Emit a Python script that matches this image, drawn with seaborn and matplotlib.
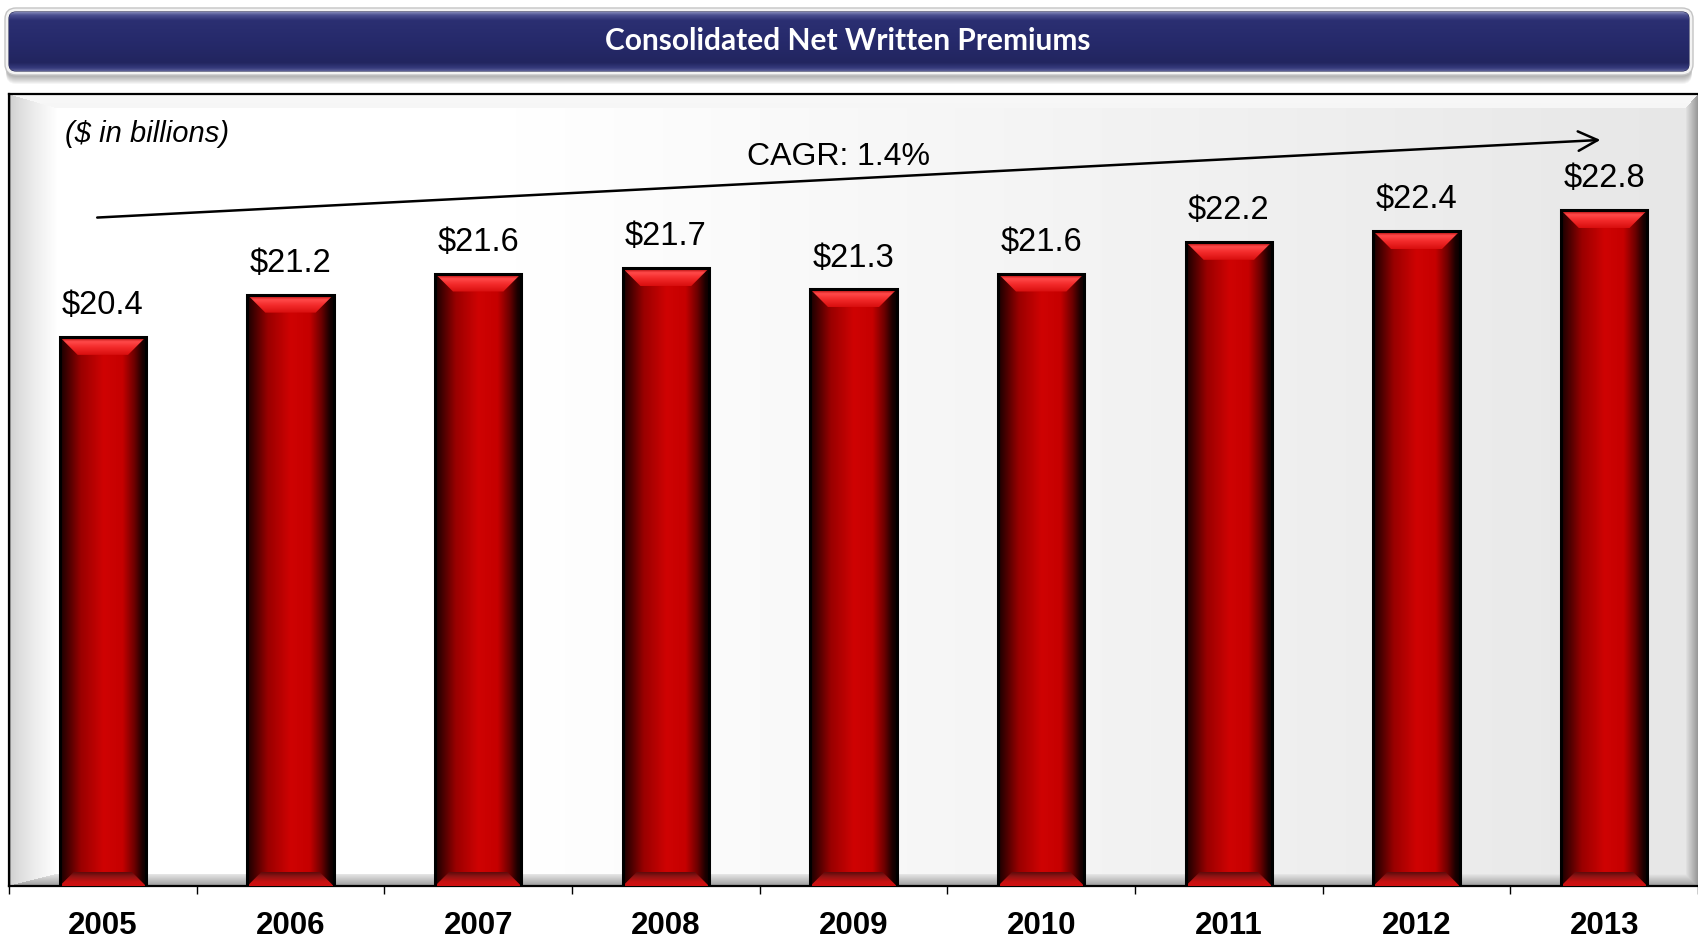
import numpy as np
import matplotlib
matplotlib.use("Agg")
import matplotlib.pyplot as plt
from matplotlib.patches import FancyBboxPatch, Polygon
from matplotlib.colors import LinearSegmentedColormap
import seaborn as sns

# ---- data ----
years = ["2005", "2006", "2007", "2008", "2009", "2010", "2011", "2012", "2013"]
premiums = [20.4, 21.2, 21.6, 21.7, 21.3, 21.6, 22.2, 22.4, 22.8]
value_labels = [f"${v:.1f}" for v in premiums]
title = "Consolidated Net Written Premiums"
unit_note = "($ in billions)"
cagr_text = "CAGR: 1.4%"

sns.set_style("white")
plt.rcParams["font.family"] = ["Liberation Sans", "DejaVu Sans"]

W_PX, H_PX = 1698, 938
fig = plt.figure(figsize=(W_PX / 100, H_PX / 100), dpi=100)
fig.patch.set_facecolor("white")


def cmap_from(colors, positions):
    return LinearSegmentedColormap.from_list("g", list(zip(positions, colors)))


# ---- decoration layer in pixel coordinates ----
deco = fig.add_axes([0, 0, 1, 1], zorder=0)
deco.set_xlim(0, W_PX)
deco.set_ylim(H_PX, 0)
deco.axis("off")

# title banner: soft shadow, light rim, navy body
for k in range(9):
    deco.add_patch(FancyBboxPatch((6, 14 + k), 1686, 62,
                                  boxstyle="round,pad=0,rounding_size=10",
                                  fc="black", ec="none", alpha=0.04))
deco.add_patch(FancyBboxPatch((5, 8), 1688, 67,
                              boxstyle="round,pad=0,rounding_size=11",
                              fc="#f3f3f3", ec="#c4c4c4", lw=1.0))
navy = FancyBboxPatch((9, 12), 1680, 59,
                      boxstyle="round,pad=0,rounding_size=7",
                      fc="none", ec="#1c1f4f", lw=0.8)
deco.add_patch(navy)
navy_cmap = cmap_from(["#8186b6", "#4b5090", "#2b2f72", "#262a6b", "#22255f", "#363a7c", "#5d6198"],
                      [0, 0.05, 0.14, 0.5, 0.86, 0.95, 1])
im = deco.imshow(np.linspace(0, 1, 256)[:, None], cmap=navy_cmap, aspect="auto",
                 extent=(9, 1689, 71, 12), origin="upper", interpolation="bilinear", zorder=1)
im.set_clip_path(navy)
deco.text(848, 41, title, color="white", fontsize=21.5, fontweight="bold",
          family=["Lato", "DejaVu Sans"], ha="center", va="center", zorder=3)

# plot panel with bevelled frame
PL, PR, PT, PB = 9, 1698, 94, 886
pw, ph = PR - PL, PB - PT
xs = np.arange(pw)[None, :].astype(float)
ys = np.arange(ph)[:, None].astype(float)
fx = xs / pw
base = np.where(fx < 0.3, 1.0, 1.0 - (fx - 0.3) / 0.7 * 0.095) * np.ones_like(ys)
Lw, Rw, Tw, Bw = 48.0, 12.0, 14.0, 12.0
ul = xs / Lw * np.ones_like(ys)
ur = (pw - 1 - xs) / Rw * np.ones_like(ys)
ut = ys / Tw * np.ones_like(xs)
ub = (ph - 1 - ys) / Bw * np.ones_like(xs)
stack = np.stack([ul, ur, ut, ub])
region = np.argmin(stack, axis=0)
depth = np.min(stack, axis=0)
img = base.copy()
inside = depth < 1
t = np.clip(depth, 0, 1)
left_v = 0.80 + 0.20 * t ** 0.7
right_v = 0.60 + 0.30 * t
top_v = 0.975 - 0.01 * t
bot_v = 0.62 + 0.30 * t
for r, vals in enumerate([left_v, right_v, top_v, bot_v]):
    m = inside & (region == r)
    img[m] = vals[m]
img[:, :2] = np.minimum(img[:, :2], 0.62)
deco.imshow(np.dstack([img, img, img]), aspect="auto", extent=(PL, PR, PB, PT),
            origin="upper", interpolation="bilinear", zorder=0)
deco.set_xlim(0, W_PX)
deco.set_ylim(H_PX, 0)

# ---- main chart ----
ax = fig.add_axes([PL / W_PX, 1 - PB / H_PX, pw / W_PX, ph / H_PX], zorder=1)
ax.patch.set_alpha(0)
sns.barplot(x=years, y=premiums, color="#c00000", width=0.46, saturation=1, ax=ax)

YMIN, YMAX = 10, 25
ux = pw / 9.0          # pixels per category
uy = ph / (YMAX - YMIN)  # pixels per billion

bar_cmap = cmap_from(["#180000", "#3c0000", "#9a0000", "#cf0303", "#c60000", "#6a0000", "#1a0000", "#0a0000"],
                     [0, 0.07, 0.24, 0.5, 0.72, 0.86, 0.95, 1])
top_cmap = cmap_from(["#a80000", "#ff4a4a", "#f42c2c", "#d80e0e"], [0, 0.25, 0.55, 1])
bot_cmap = cmap_from(["#5e0a0a", "#8e1414", "#c81010", "#d01010"], [0, 0.3, 0.7, 1])

for p in list(ax.patches):
    x0, w, h = p.get_x(), p.get_width(), p.get_height()
    p.set_facecolor("none")
    p.set_edgecolor("black")
    p.set_linewidth(2.2)
    p.set_zorder(4)
    g = ax.imshow(np.linspace(0, 1, 256)[None, :], cmap=bar_cmap, aspect="auto",
                  extent=(x0, x0 + w, YMIN, h), interpolation="bilinear", zorder=2)
    g.set_clip_path(p)
    # top bevel
    ix, iy = 18 / ux, 18 / uy
    tb = Polygon([(x0, h), (x0 + w, h), (x0 + w - ix, h - iy), (x0 + ix, h - iy)],
                 closed=True, fc="none", ec="none")
    ax.add_patch(tb)
    tg = ax.imshow(np.linspace(0, 1, 64)[:, None], cmap=top_cmap, aspect="auto",
                   extent=(x0, x0 + w, h - iy, h), interpolation="bilinear", zorder=3)
    tg.set_clip_path(tb)
    # bottom bevel
    ixb, iyb = 14 / ux, 14 / uy
    bb = Polygon([(x0, YMIN), (x0 + w, YMIN), (x0 + w - ixb, YMIN + iyb), (x0 + ixb, YMIN + iyb)],
                 closed=True, fc="none", ec="none")
    ax.add_patch(bb)
    bg = ax.imshow(np.linspace(0, 1, 64)[:, None], cmap=bot_cmap, aspect="auto",
                   extent=(x0, x0 + w, YMIN, YMIN + iyb), interpolation="bilinear", zorder=3)
    bg.set_clip_path(bb)

for i, (v, lbl) in enumerate(zip(premiums, value_labels)):
    ax.text(i, v + 0.3, lbl, ha="center", va="bottom", fontsize=23.5, color="black", zorder=5)

# growth arrow and annotations
ax.annotate("", xy=(7.98, 24.13), xytext=(-0.03, 22.66),
            arrowprops=dict(arrowstyle="->,head_length=0.7,head_width=0.35", lw=1.8,
                            color="black", mutation_scale=20, shrinkA=0, shrinkB=0),
            zorder=5)
ax.text(3.92, 23.8, cagr_text, ha="center", va="center", fontsize=23, color="black", zorder=5)
ax.text(0.033, 0.95, unit_note, transform=ax.transAxes, fontsize=21, style="italic",
        ha="left", va="center", color="black", zorder=5)

ax.set_xlim(-0.5, 8.5)
ax.set_ylim(YMIN, YMAX)
ax.set_yticks([])
ax.set_xlabel("")
ax.set_ylabel("")
ax.set_xticks(range(len(years)))
ax.set_xticklabels(years, fontweight="bold", fontsize=22.5)
ax.set_xticks(np.arange(-0.5, len(years), 1.0), minor=True)
ax.tick_params(axis="x", which="major", length=0, pad=18, colors="black")
ax.tick_params(axis="x", which="minor", length=6, width=1.0, direction="out", color="black",
               bottom=True)
for side in ["top", "left", "bottom"]:
    ax.spines[side].set_color("black")
    ax.spines[side].set_linewidth(1.6)
ax.spines["right"].set_visible(False)

fig.savefig("out.png", dpi=100)
